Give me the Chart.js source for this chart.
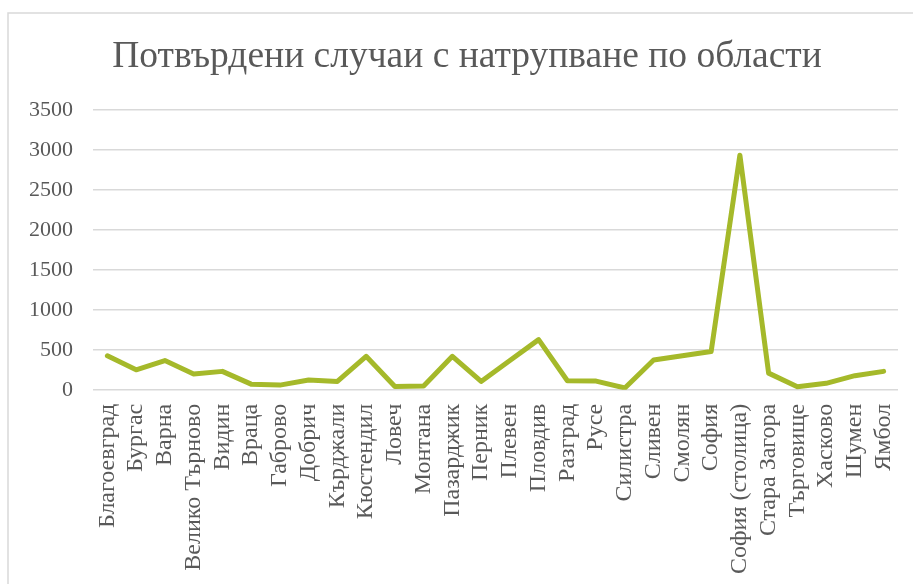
<!DOCTYPE html>
<html>
<head>
<meta charset="utf-8">
<script src="https://cdn.jsdelivr.net/npm/chart.js@4"></script>
<style>
  html, body { margin: 0; padding: 0; background: #fff; }
  #wrap { position: relative; width: 913px; height: 584px; }
</style>
</head>
<body>
<div id="wrap"><canvas id="chart" width="913" height="584"></canvas></div>
<script>
// данни по области
const regions = ['Благоевград', 'Бургас', 'Варна', 'Велико Търново', 'Видин', 'Враца', 'Габрово', 'Добрич',
  'Кърджали', 'Кюстендил', 'Ловеч', 'Монтана', 'Пазарджик', 'Перник', 'Плевен', 'Пловдив', 'Разград',
  'Русе', 'Силистра', 'Сливен', 'Смолян', 'София', 'София (столица)', 'Стара Загора', 'Търговище',
  'Хасково', 'Шумен', 'Ямбол'];
const cases = [425, 250, 365, 197, 230, 70, 58, 122,
  104, 418, 40, 48, 418, 104, 365, 627, 113,
  108, 22, 372, 425, 478, 2935, 208, 38,
  80, 176, 230];
const yTicks = [0, 500, 1000, 1500, 2000, 2500, 3000, 3500];
const chartTitle = 'Потвърдени случаи с натрупване по области';

const textColor = '#595959';
const serif = "'Liberation Serif', 'Times New Roman', serif";

// рамка и заглавие
const frame = {
  id: 'frame',
  beforeDraw(chart) {
    const ctx = chart.ctx;
    ctx.save();
    ctx.strokeStyle = '#d9d9d9';
    ctx.lineWidth = 1.5;
    ctx.strokeRect(8, 13, 1000, 1000);
    ctx.fillStyle = textColor;
    ctx.font = '37.5px ' + serif;
    ctx.textAlign = 'center';
    ctx.textBaseline = 'middle';
    ctx.fillText(chartTitle, 467, 57);
    ctx.restore();
  }
};

new Chart(document.getElementById('chart'), {
  type: 'line',
  data: {
    labels: regions,
    datasets: [{
      data: cases,
      borderColor: '#a5b92a',
      borderWidth: 5,
      pointRadius: 0,
      tension: 0,
      borderJoinStyle: 'round',
      borderCapStyle: 'round'
    }]
  },
  options: {
    responsive: false,
    animation: false,
    layout: { padding: { top: 110, left: 9, right: 15, bottom: 4 } },
    plugins: {
      legend: { display: false },
      tooltip: { enabled: false },
      title: { display: false }
    },
    scales: {
      x: {
        offset: true,
        grid: { display: false },
        border: { display: false },
        afterFit(scale) {
          scale.paddingLeft = 0;
          scale.paddingRight = 0;
        },
        ticks: {
          color: textColor,
          font: { family: serif, size: 24 },
          minRotation: 90,
          maxRotation: 90,
          autoSkip: false,
          padding: 6
        }
      },
      y: {
        min: 0,
        max: 3500,
        afterBuildTicks(axis) { axis.ticks = yTicks.map(v => ({ value: v })); },
        grid: { color: '#d9d9d9', lineWidth: 1.5, drawTicks: false },
        border: { display: false },
        ticks: {
          color: textColor,
          font: { family: serif, size: 22 },
          padding: 20,
          callback: v => String(v)
        }
      }
    }
  },
  plugins: [frame]
});
</script>
</body>
</html>
